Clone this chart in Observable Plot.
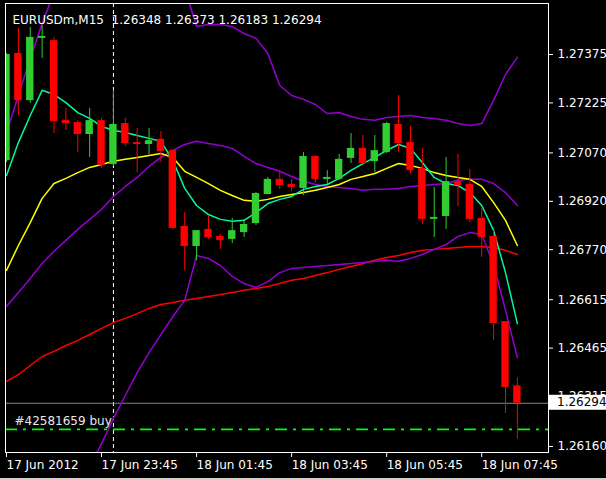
<!DOCTYPE html>
<html><head><meta charset="utf-8">
<script src="https://cdn.jsdelivr.net/npm/d3@7"></script>
<script src="https://cdn.jsdelivr.net/npm/@observablehq/plot@0.6"></script>
<style>html,body{margin:0;padding:0;background:#000;overflow:hidden}#chart{position:relative;width:606px;height:480px}#chart svg{display:block}#edge{position:absolute;left:0;top:478px;width:606px;height:2px;background:#d4d0c8}</style>
</head><body><div id="chart"><div id="edge"></div></div>
<script>
// ---- data (EURUSDm, M15, bars from 17 Jun 21:45) ----
const title = "EURUSDm,M15  1.26348 1.26373 1.26183 1.26294";
const opens  = [1.27046,1.27378,1.27232,1.27425,1.27418,1.27170,1.27164,1.27127,1.27170,1.27034,1.27161,1.27102,1.27096,1.27112,1.27077,1.26842,1.26780,1.26833,1.26811,1.26802,1.26823,1.26851,1.26941,1.26988,1.26972,1.26960,1.27059,1.26988,1.26988,1.27053,1.27084,1.27043,1.27071,1.27158,1.27102,1.27022,1.26864,1.26873,1.26981,1.26972,1.26867,1.26811,1.26547,1.26348];
const highs  = [1.27378,1.27456,1.27459,1.27465,1.27428,1.27208,1.27170,1.27208,1.27177,1.27263,1.27177,1.27146,1.27146,1.27136,1.27080,1.26885,1.26829,1.26876,1.26817,1.26867,1.26864,1.26947,1.26994,1.27009,1.26988,1.27071,1.27062,1.27015,1.27065,1.27130,1.27124,1.27124,1.27164,1.27248,1.27152,1.27084,1.26963,1.27056,1.27065,1.27019,1.26898,1.26829,1.26547,1.26373];
const lows   = [1.27040,1.27186,1.27223,1.27363,1.27130,1.27139,1.27071,1.27056,1.27022,1.27028,1.27090,1.27009,1.27065,1.27040,1.26833,1.26705,1.26736,1.26802,1.26771,1.26789,1.26808,1.26845,1.26941,1.26957,1.26950,1.26938,1.26975,1.26972,1.26985,1.27037,1.27034,1.27009,1.27068,1.27071,1.27006,1.26848,1.26808,1.26833,1.26904,1.26854,1.26746,1.26489,1.26262,1.26183];
const closes = [1.27375,1.27232,1.27428,1.27431,1.27167,1.27161,1.27127,1.27170,1.27031,1.27158,1.27099,1.27096,1.27108,1.27074,1.26836,1.26780,1.26829,1.26808,1.26798,1.26829,1.26848,1.26944,1.26988,1.26969,1.26963,1.27059,1.26988,1.26994,1.27050,1.27084,1.27037,1.27077,1.27161,1.27099,1.27015,1.26864,1.26870,1.26981,1.26969,1.26864,1.26808,1.26541,1.26343,1.26294];
const maFast = [1.27000,1.27102,1.27186,1.27264,1.27251,1.27226,1.27195,1.27177,1.27152,1.27140,1.27133,1.27124,1.27115,1.27106,1.27047,1.26960,1.26907,1.26879,1.26864,1.26858,1.26861,1.26885,1.26913,1.26926,1.26935,1.26957,1.26966,1.26972,1.26991,1.27016,1.27037,1.27056,1.27078,1.27096,1.27084,1.27040,1.26994,1.26975,1.26969,1.26947,1.26907,1.26830,1.26699,1.26541];
const maMid  = [1.26706,1.26783,1.26854,1.26929,1.26975,1.26991,1.27009,1.27025,1.27034,1.27044,1.27050,1.27056,1.27062,1.27068,1.27056,1.27013,1.26994,1.26975,1.26954,1.26938,1.26923,1.26920,1.26926,1.26935,1.26941,1.26947,1.26954,1.26963,1.26972,1.26988,1.26997,1.27006,1.27022,1.27037,1.27031,1.27022,1.27009,1.27000,1.26994,1.26988,1.26966,1.26916,1.26861,1.26783];
const maSlow = [1.26362,1.26383,1.26411,1.26439,1.26455,1.26473,1.26489,1.26507,1.26526,1.26544,1.26557,1.26572,1.26588,1.26600,1.26606,1.26613,1.26619,1.26625,1.26631,1.26637,1.26644,1.26650,1.26656,1.26665,1.26675,1.26681,1.26690,1.26699,1.26709,1.26718,1.26727,1.26737,1.26746,1.26752,1.26761,1.26768,1.26771,1.26774,1.26777,1.26780,1.26780,1.26777,1.26768,1.26755];
const bbUpper  = [1.27133,1.27248,1.27363,1.27471,1.27567,1.27605,1.27620,1.27629,1.27620,1.27629,1.27614,1.27598,1.27605,1.27605,1.27592,1.27580,1.27462,1.27468,1.27468,1.27462,1.27440,1.27425,1.27378,1.27279,1.27248,1.27236,1.27220,1.27192,1.27195,1.27183,1.27174,1.27171,1.27180,1.27183,1.27186,1.27180,1.27177,1.27171,1.27161,1.27155,1.27161,1.27233,1.27313,1.27366];
const bbMiddle = [1.26594,1.26637,1.26681,1.26727,1.26765,1.26799,1.26833,1.26864,1.26895,1.26935,1.26966,1.26994,1.27028,1.27056,1.27078,1.27096,1.27106,1.27099,1.27093,1.27084,1.27059,1.27037,1.27025,1.27013,1.26997,1.26982,1.26972,1.26966,1.26963,1.26960,1.26954,1.26957,1.26957,1.26960,1.26966,1.26969,1.26972,1.26975,1.26985,1.26988,1.26988,1.26975,1.26947,1.26907];
const bbLower  = [1.26055,1.26027,1.25999,1.25983,1.25962,1.25993,1.26045,1.26098,1.26169,1.26247,1.26318,1.26389,1.26451,1.26507,1.26563,1.26613,1.26752,1.26743,1.26721,1.26687,1.26665,1.26653,1.26671,1.26699,1.26712,1.26715,1.26718,1.26721,1.26724,1.26727,1.26730,1.26734,1.26737,1.26734,1.26743,1.26755,1.26771,1.26786,1.26811,1.26823,1.26817,1.26724,1.26582,1.26436];
const xTickIndex  = [0, 8, 16, 24, 32, 40];
const xTickLabels = ["17 Jun 2012","17 Jun 23:45","18 Jun 01:45","18 Jun 03:45","18 Jun 05:45","18 Jun 07:45"];
const yTicks = [1.27375,1.27225,1.27070,1.26920,1.26770,1.26615,1.26465,1.26315,1.26160];
const bidPrice = 1.26294;
const orderPrice = 1.26213;
const orderLabel = "#42581659 buy";
const separatorIndex = 9; // 18 Jun 00:00

// ---- build ----
const candles = opens.map((o, i) => ({i, open: o, high: highs[i], low: lows[i], close: closes[i], up: closes[i] >= o}));
const series = arr => arr.map((v, i) => ({i, v}));
const FONT = "DejaVu Sans";
const GREEN = "#32cd32", RED = "#ff0000";

const chart = Plot.plot({
  width: 606, height: 480,
  marginLeft: 5, marginRight: 58, marginTop: 3, marginBottom: 28,
  style: {background: "#000", color: "#fff", fontFamily: FONT, fontSize: "12px"},
  x: {type: "linear", domain: [-0.084, 45.62], axis: null},
  y: {type: "linear", domain: [1.261414, 1.275331], axis: null},
  marks: [
    Plot.ruleX([separatorIndex], {stroke: "#fff", strokeDasharray: "4,3"}),
    Plot.ruleY([bidPrice], {stroke: "#778899"}),
    Plot.ruleY([orderPrice], {stroke: "#00ff00", strokeWidth: 1.6, strokeDasharray: "12,6,3,6"}),
    Plot.line(series(maSlow), {x: "i", y: "v", stroke: "#ff0000", clip: true}),
    Plot.line(series(bbUpper), {x: "i", y: "v", stroke: "#9400d3", clip: true}),
    Plot.line(series(bbMiddle), {x: "i", y: "v", stroke: "#9400d3", clip: true}),
    Plot.line(series(bbLower), {x: "i", y: "v", stroke: "#9400d3", clip: true}),
    Plot.line(series(maMid), {x: "i", y: "v", stroke: "#ffff00", clip: true}),
    Plot.line(series(maFast), {x: "i", y: "v", stroke: "#00fa9a", clip: true}),
    Plot.ruleX(candles, {x: "i", y1: "low", y2: "high", stroke: d => d.up ? GREEN : RED, clip: true}),
    Plot.rect(candles, {x1: d => d.i - 0.31, x2: d => d.i + 0.31, y1: "open", y2: "close", fill: d => d.up ? GREEN : RED, clip: true}),
    Plot.frame({stroke: "#fff"}),
    Plot.axisY({anchor: "right", ticks: yTicks, tickFormat: d => d.toFixed(5), tickSize: 4, tickPadding: 5, label: null, fill: "#fff", stroke: "#fff"}),
    Plot.axisX({anchor: "bottom", ticks: xTickIndex, tickFormat: d => xTickLabels[xTickIndex.indexOf(d)], tickSize: 5, tickPadding: 3, textAnchor: "start", label: null, fill: "#fff", stroke: "#fff"}),
    Plot.text([title], {text: d => d, frameAnchor: "top-left", dx: 7, dy: 12, textAnchor: "start", fill: "#fff", fontSize: 12}),
    Plot.text([orderLabel], {text: d => d, y: () => orderPrice, frameAnchor: "left", dx: 9, dy: -8, textAnchor: "start", fill: "#e8e8e8", fontSize: 12}),
    (index, scales, values, dims) => {
      const y = scales.y(bidPrice);
      const x0 = dims.width - dims.marginRight + 1;
      const g = d3.create("svg:g");
      g.append("rect").attr("x", x0).attr("y", y - 8).attr("width", dims.marginRight - 1).attr("height", 15).attr("fill", "#fff");
      g.append("text").attr("x", x0 + 8).attr("y", y).attr("dy", "0.3em").attr("fill", "#000")
        .attr("text-anchor", "start").attr("font-family", FONT).attr("font-size", 12).text(bidPrice.toFixed(5));
      return g.node();
    }
  ]
});
document.getElementById("chart").prepend(chart);
</script>
</body></html>
